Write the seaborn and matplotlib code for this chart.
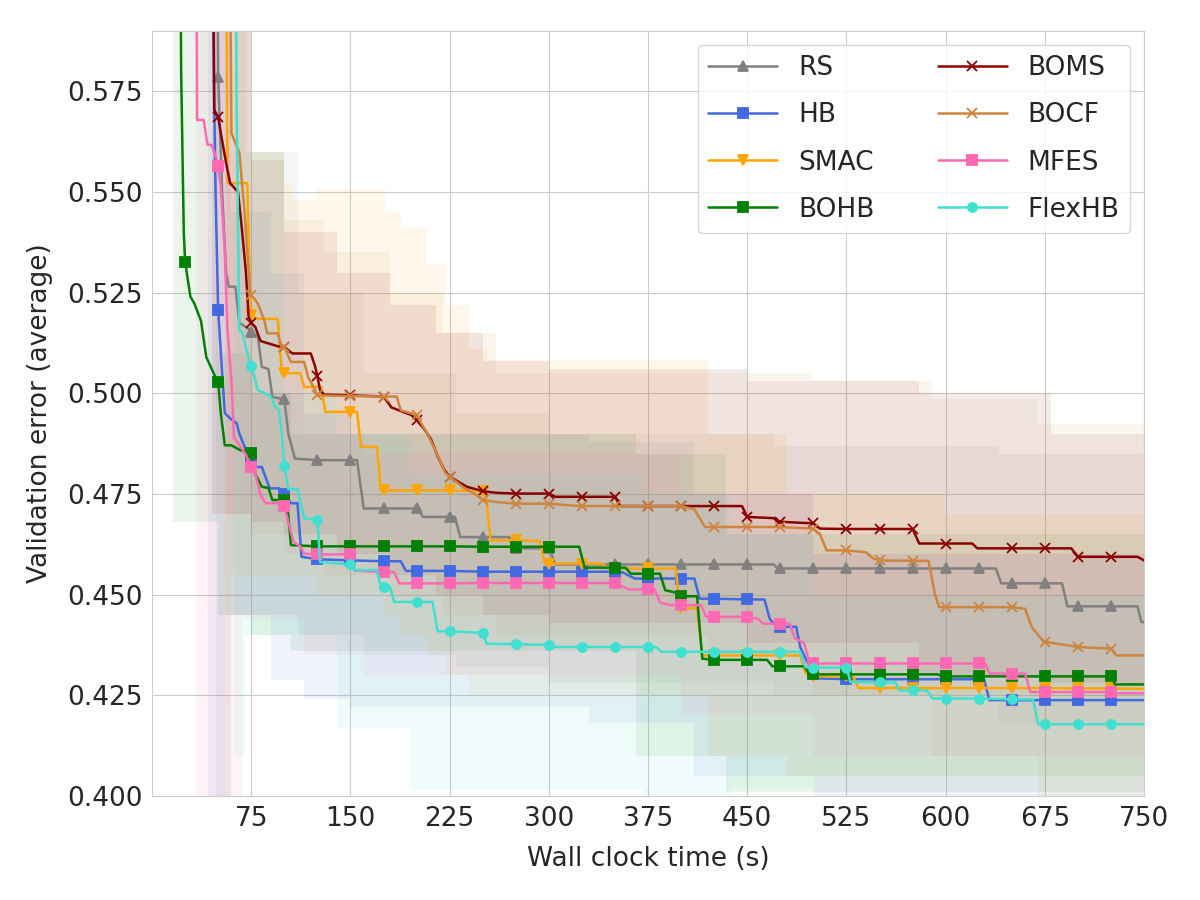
import numpy as np
import matplotlib
matplotlib.use("Agg")
import matplotlib.pyplot as plt
import seaborn as sns

# ---- data (time in s, average validation error) ----
methods = ["RS", "HB", "SMAC", "BOHB", "BOMS", "BOCF", "MFES", "FlexHB"]
colors = ["gray", "royalblue", "orange", "green", "darkred", "peru", "hotpink", "turquoise"]
markers = ["^", "s", "v", "s", "x", "x", "s", "o"]

rs_t = [48, 50, 53, 56, 58, 63, 66, 73, 75, 80, 83, 88, 91, 100, 103, 108, 125, 150, 155, 160, 175, 200, 205,
        225, 229, 233, 250, 270, 273, 275, 300, 305, 325, 350, 375, 400, 425, 450, 470, 473, 475, 500, 525,
        550, 575, 600, 625, 638, 642, 650, 675, 688, 692, 700, 725, 745, 748, 750]
rs_v = [0.700, 0.5786, 0.550, 0.530, 0.5265, 0.5265, 0.5175, 0.5160, 0.5153, 0.5140, 0.5066, 0.5060, 0.4991,
        0.4985, 0.4900, 0.4838, 0.4834, 0.4834, 0.4834, 0.4714, 0.4714, 0.4714, 0.4693, 0.4693, 0.4693, 0.4643,
        0.4643, 0.4643, 0.4615, 0.4615, 0.4615, 0.4575, 0.4575, 0.4575, 0.4575, 0.4575, 0.4575, 0.4575, 0.4575,
        0.4565, 0.4565, 0.4565, 0.4565, 0.4565, 0.4565, 0.4565, 0.4565, 0.4565, 0.4528, 0.4528, 0.4528, 0.4528,
        0.4471, 0.4471, 0.4471, 0.4471, 0.4432, 0.4432]

hb_t = [42, 45, 48, 50, 53, 55, 60, 64, 66, 70, 73, 75, 78, 83, 86, 89, 96, 100, 105, 110, 113, 125, 150, 175,
        188, 192, 200, 225, 250, 275, 300, 325, 350, 356, 365, 375, 400, 410, 414, 425, 450, 463, 467, 472, 475,
        487, 490, 495, 503, 525, 550, 575, 600, 625, 629, 633, 650, 675, 700, 725, 750]
hb_v = [0.700, 0.620, 0.550, 0.5207, 0.5050, 0.4951, 0.4935, 0.4926, 0.4900, 0.4867, 0.4840, 0.4834, 0.4817,
        0.4817, 0.4790, 0.4764, 0.4764, 0.4751, 0.4727, 0.4727, 0.4594, 0.4588, 0.4585, 0.4583, 0.4583, 0.4559,
        0.4559, 0.4559, 0.4557, 0.4557, 0.4557, 0.4557, 0.4557, 0.4555, 0.4540, 0.4540, 0.4540, 0.4540, 0.4490,
        0.4490, 0.4488, 0.4488, 0.4440, 0.4420, 0.4420, 0.4420, 0.4370, 0.4335, 0.4292, 0.4290, 0.4290, 0.4290,
        0.4290, 0.4290, 0.4290, 0.4238, 0.4238, 0.4238, 0.4238, 0.4238, 0.4238]

smac_t = [55, 57, 72, 74, 75, 80, 95, 98, 100, 112, 115, 128, 131, 150, 155, 158, 170, 173, 175, 200, 225, 250,
          252, 256, 275, 293, 297, 300, 325, 340, 345, 350, 375, 396, 399, 400, 412, 416, 425, 450, 475, 490,
          494, 500, 525, 530, 534, 550, 575, 600, 625, 650, 675, 700, 725, 750]
smac_v = [0.700, 0.5522, 0.5522, 0.5250, 0.5194, 0.5185, 0.5185, 0.5058, 0.5050, 0.5050, 0.5016, 0.5016, 0.4954,
          0.4954, 0.4954, 0.4867, 0.4867, 0.4759, 0.4759, 0.4759, 0.4759, 0.4757, 0.4757, 0.4635, 0.4635, 0.4633,
          0.4577, 0.4577, 0.4577, 0.4577, 0.4565, 0.4565, 0.4565, 0.4565, 0.4466, 0.4466, 0.4466, 0.4349, 0.4349,
          0.4349, 0.4349, 0.4349, 0.4305, 0.4297, 0.4297, 0.4297, 0.4268, 0.4268, 0.4268, 0.4268, 0.4268, 0.4268,
          0.4268, 0.4267, 0.4267, 0.4266]

bohb_t = [20, 22, 24, 25, 29, 32, 37, 41, 48, 50, 52, 55, 60, 66, 75, 78, 83, 88, 91, 100, 102, 105, 125, 150,
          175, 200, 225, 250, 275, 300, 323, 327, 350, 358, 362, 375, 384, 388, 396, 400, 412, 416, 425, 450,
          465, 469, 475, 493, 497, 500, 525, 550, 575, 594, 598, 600, 625, 650, 675, 700, 725, 728, 750]
bohb_v = [0.700, 0.580, 0.540, 0.5327, 0.5240, 0.5223, 0.5180, 0.5090, 0.5040, 0.5028, 0.4950, 0.4871, 0.4871,
          0.4860, 0.4851, 0.4800, 0.4768, 0.4765, 0.4735, 0.4735, 0.4735, 0.4623, 0.4620, 0.4620, 0.4620, 0.4620,
          0.4620, 0.4619, 0.4619, 0.4619, 0.4619, 0.4567, 0.4567, 0.4567, 0.4552, 0.4552, 0.4552, 0.4511, 0.4505,
          0.4496, 0.4496, 0.4341, 0.4338, 0.4338, 0.4338, 0.4322, 0.4322, 0.4322, 0.4302, 0.4302, 0.4302, 0.4302,
          0.4302, 0.4302, 0.4297, 0.4297, 0.4297, 0.4297, 0.4297, 0.4297, 0.4297, 0.4277, 0.4277]

boms_t = [45, 47, 50, 52, 56, 59, 65, 68, 71, 73, 75, 78, 82, 95, 100, 103, 106, 120, 123, 125, 127, 130, 150,
          175, 181, 196, 200, 206, 211, 216, 221, 225, 238, 250, 260, 275, 300, 305, 325, 350, 354, 375, 400, 425,
          446, 450, 470, 473, 475, 500, 505, 525, 550, 575, 580, 600, 620, 624, 650, 675, 695, 700, 725, 745, 750]
boms_v = [0.700, 0.5704, 0.5686, 0.5646, 0.5572, 0.5522, 0.5500, 0.5406, 0.5300, 0.5190, 0.5175, 0.5165, 0.5130,
          0.5117, 0.5115, 0.5107, 0.5099, 0.5099, 0.5070, 0.5043, 0.5008, 0.4997, 0.4995, 0.4992, 0.4965, 0.4946,
          0.4934, 0.4910, 0.4885, 0.4843, 0.4810, 0.4793, 0.4768, 0.4757, 0.4753, 0.4751, 0.4751, 0.4743, 0.4743,
          0.4743, 0.4720, 0.4720, 0.4720, 0.4720, 0.4720, 0.4693, 0.4690, 0.4681, 0.4681, 0.4677, 0.4664, 0.4663,
          0.4663, 0.4663, 0.4627, 0.4627, 0.4627, 0.4615, 0.4615, 0.4615, 0.4615, 0.4594, 0.4594, 0.4594, 0.4585]

bocf_t = [57, 60, 66, 70, 72, 74, 75, 80, 85, 87, 95, 98, 100, 105, 115, 118, 123, 125, 150, 175, 185, 188, 200,
          208, 213, 222, 225, 236, 245, 250, 260, 275, 300, 315, 325, 350, 375, 400, 410, 418, 425, 450, 475, 500,
          505, 510, 525, 540, 545, 550, 575, 587, 592, 595, 600, 625, 650, 660, 665, 674, 675, 700, 725, 729, 750]
bocf_v = [0.700, 0.5646, 0.5598, 0.5450, 0.5350, 0.5255, 0.5244, 0.5223, 0.5180, 0.5149, 0.5149, 0.5115, 0.5115,
          0.5078, 0.5078, 0.5040, 0.5010, 0.4995, 0.4993, 0.4992, 0.4992, 0.4958, 0.4946, 0.4900, 0.4867, 0.4801,
          0.4793, 0.4765, 0.4748, 0.4735, 0.4730, 0.4726, 0.4726, 0.4722, 0.4720, 0.4720, 0.4720, 0.4720, 0.4712,
          0.4668, 0.4668, 0.4668, 0.4668, 0.4664, 0.4650, 0.4610, 0.4610, 0.4605, 0.4590, 0.4585, 0.4584, 0.4584,
          0.4500, 0.4469, 0.4469, 0.4469, 0.4469, 0.4465, 0.4420, 0.4383, 0.4383, 0.4370, 0.4366, 0.4349, 0.4349]

mfes_t = [33, 34, 39, 42, 45, 48, 50, 52, 55, 57, 60, 62, 67, 71, 75, 78, 82, 86, 97, 100, 103, 107, 112, 115,
          125, 150, 153, 175, 183, 187, 200, 225, 250, 275, 300, 325, 350, 356, 360, 375, 380, 384, 392, 400, 415,
          419, 425, 450, 458, 462, 475, 482, 486, 493, 497, 500, 525, 550, 575, 600, 625, 630, 633, 650, 660, 664,
          675, 700, 725, 730, 750]
mfes_v = [0.700, 0.5679, 0.5679, 0.5617, 0.5617, 0.5590, 0.5565, 0.5513, 0.5350, 0.5157, 0.5033, 0.4890, 0.4867,
          0.4847, 0.4816, 0.4801, 0.4747, 0.4727, 0.4727, 0.4720, 0.4680, 0.4631, 0.4620, 0.4602, 0.4600, 0.4600,
          0.4560, 0.4556, 0.4556, 0.4528, 0.4528, 0.4528, 0.4529, 0.4529, 0.4529, 0.4529, 0.4529, 0.4520, 0.4513,
          0.4513, 0.4513, 0.4480, 0.4474, 0.4474, 0.4474, 0.4445, 0.4445, 0.4445, 0.4440, 0.4428, 0.4428, 0.4428,
          0.4392, 0.4380, 0.4330, 0.4329, 0.4329, 0.4329, 0.4329, 0.4329, 0.4329, 0.4329, 0.4304, 0.4304, 0.4304,
          0.4258, 0.4258, 0.4258, 0.4258, 0.4255, 0.4255]

flex_t = [62, 64, 66, 68, 72, 75, 78, 80, 88, 90, 93, 96, 98, 100, 103, 110, 115, 125, 127, 150, 153, 170, 173,
          175, 180, 183, 200, 212, 216, 225, 250, 253, 275, 300, 305, 325, 350, 375, 381, 385, 400, 425, 450, 475,
          490, 494, 500, 525, 528, 550, 562, 565, 575, 586, 590, 600, 625, 650, 666, 670, 675, 700, 725, 750]
flex_v = [0.700, 0.570, 0.5157, 0.5152, 0.5100, 0.5067, 0.5033, 0.5008, 0.4996, 0.4991, 0.4966, 0.4960, 0.4900,
          0.4819, 0.4762, 0.4762, 0.4690, 0.4685, 0.4581, 0.4575, 0.4561, 0.4561, 0.4519, 0.4519, 0.4519, 0.4482,
          0.4482, 0.4482, 0.4409, 0.4409, 0.4405, 0.4378, 0.4377, 0.4375, 0.4370, 0.4370, 0.4370, 0.4370, 0.4370,
          0.4358, 0.4358, 0.4358, 0.4358, 0.4358, 0.4358, 0.4320, 0.4319, 0.4319, 0.4283, 0.4282, 0.4282, 0.4262,
          0.4262, 0.4262, 0.4242, 0.4242, 0.4242, 0.4240, 0.4240, 0.4178, 0.4178, 0.4178, 0.4178, 0.4178]

# spread bands (step edges), read roughly off the shaded areas
rs_band_t = [48, 55, 75, 110, 160, 230, 300, 470, 640, 750]
rs_band_lo = [0.400, 0.445, 0.445, 0.440, 0.435, 0.432, 0.428, 0.425, 0.418, 0.418]
rs_band_hi = [0.650, 0.650, 0.560, 0.525, 0.505, 0.495, 0.490, 0.487, 0.485, 0.485]
hb_band_t = [42, 60, 90, 115, 150, 330, 410, 500, 750]
hb_band_lo = [0.400, 0.445, 0.4287, 0.424, 0.4221, 0.418, 0.405, 0.400, 0.400]
hb_band_hi = [0.620, 0.545, 0.530, 0.495, 0.490, 0.488, 0.475, 0.460, 0.455]
smac_band_t = [55, 60, 72, 100, 106, 124, 176, 188, 208, 222, 240, 254, 420, 480, 600, 750]
smac_band_lo = [0.400, 0.455, 0.455, 0.455, 0.455, 0.450, 0.445, 0.440, 0.435, 0.430, 0.425, 0.425, 0.410,
                0.405, 0.405, 0.405]
smac_band_hi = [0.620, 0.620, 0.560, 0.552, 0.548, 0.5508, 0.545, 0.541, 0.532, 0.522, 0.511, 0.5083, 0.490,
                0.475, 0.470, 0.470]
bohb_band_t = [16, 50, 75, 105, 366, 434, 750]
bohb_band_lo = [0.468, 0.445, 0.440, 0.436, 0.410, 0.401, 0.402]
bohb_band_hi = [0.600, 0.510, 0.500, 0.490, 0.485, 0.465, 0.460]
boms_band_t = [45, 75, 100, 140, 180, 215, 250, 300, 450, 580, 680, 750]
boms_band_lo = [0.470, 0.468, 0.465, 0.460, 0.455, 0.450, 0.445, 0.443, 0.438, 0.430, 0.428, 0.428]
boms_band_hi = [0.620, 0.558, 0.540, 0.530, 0.522, 0.515, 0.508, 0.506, 0.503, 0.500, 0.490, 0.490]
bocf_band_t = [57, 75, 100, 130, 180, 220, 260, 420, 500, 590, 670, 750]
bocf_band_lo = [0.470, 0.465, 0.460, 0.455, 0.450, 0.445, 0.440, 0.435, 0.425, 0.410, 0.400, 0.400]
bocf_band_hi = [0.620, 0.560, 0.543, 0.535, 0.525, 0.515, 0.505, 0.505, 0.503, 0.4985, 0.4925, 0.4925]
mfes_band_t = [33, 57, 68, 75, 115, 160, 400, 500, 750]
mfes_band_lo = [0.380, 0.400, 0.444, 0.444, 0.435, 0.430, 0.420, 0.410, 0.410]
mfes_band_hi = [0.620, 0.560, 0.530, 0.500, 0.490, 0.485, 0.475, 0.460, 0.455]
flex_band_t = [62, 70, 100, 140, 195, 371, 437, 500, 750]
flex_band_lo = [0.410, 0.440, 0.440, 0.417, 0.4014, 0.400, 0.402, 0.405, 0.405]
flex_band_hi = [0.620, 0.560, 0.500, 0.490, 0.480, 0.475, 0.465, 0.450, 0.445]

xs = [rs_t, hb_t, smac_t, bohb_t, boms_t, bocf_t, mfes_t, flex_t]
ys = [rs_v, hb_v, smac_v, bohb_v, boms_v, bocf_v, mfes_v, flex_v]
bands = [(rs_band_t, rs_band_lo, rs_band_hi), (hb_band_t, hb_band_lo, hb_band_hi),
         (smac_band_t, smac_band_lo, smac_band_hi), (bohb_band_t, bohb_band_lo, bohb_band_hi),
         (boms_band_t, boms_band_lo, boms_band_hi), (bocf_band_t, bocf_band_lo, bocf_band_hi),
         (mfes_band_t, mfes_band_lo, mfes_band_hi), (flex_band_t, flex_band_lo, flex_band_hi)]

sns.set_style("whitegrid")
plt.rcParams['font.family'] = ['DejaVu Sans']

fig = plt.figure(figsize=(12, 9), dpi=100)
ax = fig.add_axes([0.1267, 0.1156, 0.8267, 0.85])

# shaded spread first
for (bt, lo, hi), c in zip(bands, colors):
    ax.fill_between(bt, lo, hi, step='post', color=c, alpha=0.08, linewidth=0)

for name, t, v, c, m in zip(methods, xs, ys, colors, markers):
    idx = [i for i, tt in enumerate(t) if tt % 25 == 0 and tt < 750]
    sns.lineplot(x=t, y=v, ax=ax, color=c, label=name, marker=m, markevery=idx,
                 markersize=6.5, markeredgecolor=c, markerfacecolor=c, markeredgewidth=1.3,
                 linewidth=1.8, errorbar=None, sort=False)

ax.set_xlim(0, 750)
ax.set_ylim(0.400, 0.590)
ax.set_xticks(np.arange(75, 751, 75))
ax.set_yticks(np.arange(0.400, 0.5751, 0.025))
ax.yaxis.set_major_formatter(matplotlib.ticker.FormatStrFormatter('%.3f'))
ax.tick_params(labelsize=19)
ax.set_xlabel("Wall clock time (s)", fontsize=19, labelpad=10)
ax.set_ylabel("Validation error (average)", fontsize=19, labelpad=10)

ax.legend(ncol=2, loc='upper right', bbox_to_anchor=(0.986, 0.982), borderaxespad=0,
          fontsize=19, handlelength=2.6, handletextpad=0.8, columnspacing=2.4, labelspacing=0.8)

fig.savefig("out.png", dpi=100)
